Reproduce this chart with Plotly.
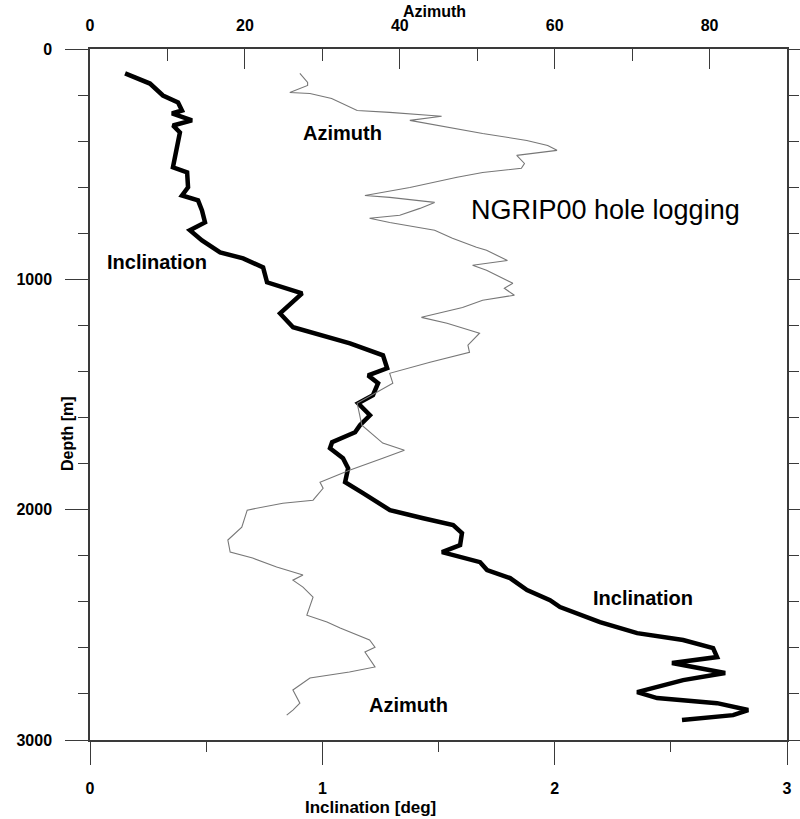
import plotly.graph_objects as go

# Inclination log (deg) vs depth (m)
inc_depth = [106, 150, 202, 232, 267, 280, 310, 332, 362, 427, 514, 536, 601, 636, 657, 701, 753, 787, 831, 883,
             909, 948, 1013, 1061, 1148, 1208, 1234, 1256, 1278, 1330, 1386, 1417, 1451, 1503, 1538, 1590, 1633,
             1664, 1707, 1733, 1777, 1820, 1881, 1928, 2002, 2037, 2067, 2102, 2154, 2184, 2228, 2262, 2297, 2349,
             2393, 2423, 2488, 2536, 2566, 2601, 2640, 2666, 2709, 2740, 2792, 2818, 2840, 2870, 2892, 2913]
inclination = [0.151, 0.258, 0.314, 0.379, 0.396, 0.353, 0.439, 0.357, 0.387, 0.375, 0.357, 0.418, 0.422, 0.396,
               0.465, 0.482, 0.495, 0.430, 0.482, 0.560, 0.659, 0.745, 0.762, 0.913, 0.818, 0.874, 0.960, 1.046,
               1.119, 1.261, 1.279, 1.197, 1.240, 1.218, 1.154, 1.205, 1.162, 1.141, 1.042, 1.033, 1.089, 1.111,
               1.098, 1.175, 1.291, 1.434, 1.563, 1.601, 1.593, 1.515, 1.679, 1.709, 1.808, 1.881, 1.980, 2.023,
               2.195, 2.355, 2.553, 2.682, 2.699, 2.505, 2.734, 2.553, 2.355, 2.441, 2.699, 2.833, 2.768, 2.548]

# Azimuth log (deg) vs depth (m)
az_depth = [106, 145, 158, 189, 193, 215, 267, 275, 289, 292, 310, 332, 367, 397, 419, 440, 462, 497, 518, 536,
            557, 601, 636, 644, 657, 666, 692, 722, 735, 753, 787, 822, 861, 874, 918, 939, 961, 1017, 1039, 1069,
            1091, 1122, 1165, 1191, 1234, 1286, 1317, 1360, 1408, 1451, 1538, 1633, 1711, 1742, 1777, 1829, 1881,
            1907, 1959, 1972, 2002, 2076, 2132, 2184, 2210, 2249, 2284, 2306, 2336, 2380, 2458, 2488, 2514, 2566,
            2597, 2618, 2683, 2705, 2731, 2783, 2840, 2870, 2892]
azimuth = [27.1, 28.1, 28.1, 25.8, 28.4, 31.2, 34.5, 38.7, 44.1, 45.4, 41.3, 44.8, 50.7, 56.4, 59.1, 60.3, 55.1,
           56.1, 55.7, 50.7, 47.4, 41.3, 35.5, 38.7, 42.2, 44.5, 42.6, 40.0, 36.1, 38.7, 44.5, 46.8, 49.9, 51.2,
           53.9, 49.4, 51.2, 54.6, 53.5, 54.8, 50.7, 48.1, 42.8, 46.1, 50.3, 48.8, 49.0, 43.9, 38.7, 39.1, 34.5,
           35.1, 37.8, 40.6, 37.8, 33.5, 29.7, 30.1, 28.8, 24.9, 20.3, 19.6, 17.8, 18.1, 21.0, 24.1, 27.5, 26.2,
           27.5, 28.8, 28.0, 30.6, 32.3, 36.1, 36.8, 35.5, 36.8, 33.5, 28.4, 26.2, 27.1, 26.2, 25.4]

inc_ticks = [0, 1, 2, 3]
az_ticks = [0, 20, 40, 60, 80]
depth_ticks = [0, 1000, 2000, 3000]

FONT = "Liberation Sans, Arial, sans-serif"
AXC = "#3a3a3a"

fig = go.Figure()
fig.add_trace(go.Scatter(x=azimuth, y=az_depth, xaxis="x2", yaxis="y", mode="lines",
                         line=dict(color="#777777", width=1.1), showlegend=False))
fig.add_trace(go.Scatter(x=inclination, y=inc_depth, xaxis="x", yaxis="y", mode="lines",
                         line=dict(color="black", width=4.5), showlegend=False))

tickfont = dict(family=FONT, size=16, color="black", weight="bold")

fig.update_layout(
    width=800, height=819,
    margin=dict(l=90, r=13, t=49, b=79),
    paper_bgcolor="white", plot_bgcolor="white",
    font=dict(family=FONT, color="black"),
    xaxis=dict(range=[0, 3], tickvals=inc_ticks, ticks="outside", ticklen=23, tickwidth=1, tickcolor=AXC,
               showline=True, linecolor=AXC, linewidth=1.5, showgrid=False, zeroline=False, automargin=False,
               tickfont=tickfont, ticklabelstandoff=10,
               minor=dict(dtick=0.5, ticks="outside", ticklen=10, tickcolor=AXC, showgrid=False)),
    xaxis2=dict(range=[0, 90], tickvals=az_ticks, overlaying="x", side="top", anchor="y",
                ticks="inside", ticklen=20, tickwidth=1, tickcolor=AXC, automargin=False,
                showline=True, linecolor=AXC, linewidth=1.5, showgrid=False, zeroline=False,
                tickfont=tickfont, ticklabelstandoff=10,
                minor=dict(dtick=10, ticks="inside", ticklen=12, tickcolor=AXC, showgrid=False)),
    yaxis=dict(range=[3000, 0], tickvals=depth_ticks, ticks="outside", ticklen=23, tickwidth=1, tickcolor=AXC,
               showline=True, linecolor=AXC, linewidth=1.5, mirror="ticks", showgrid=False, zeroline=False,
               automargin=False, tickfont=tickfont, ticklabelstandoff=10,
               minor=dict(dtick=200, ticks="outside", ticklen=10, tickcolor=AXC, showgrid=False)),
)

def px(x, y):
    return (x - 90) / 697.0, (740 - y) / 691.0

annots = [
    ("Azimuth", 434, 12, 16, "bold", 0),
    ("Inclination [deg]", 370, 808, 17, "bold", 0),
    ("Depth [m]", 67, 434, 16, "bold", -90),
    ("Azimuth", 342, 133, 20, "bold", 0),
    ("Inclination", 157, 262, 20, "bold", 0),
    ("Inclination", 643, 598, 20, "bold", 0),
    ("Azimuth", 408, 705, 20, "bold", 0),
    ("NGRIP00 hole logging", 605, 210, 27, "normal", 0),
]
for text, x, y, size, weight, ang in annots:
    ax, ay = px(x, y)
    fig.add_annotation(text=text, x=ax, y=ay, xref="paper", yref="paper", showarrow=False,
                       xanchor="center", yanchor="middle", textangle=ang,
                       font=dict(family=FONT, size=size, color="black", weight=weight))

fig.write_html("out.html")
